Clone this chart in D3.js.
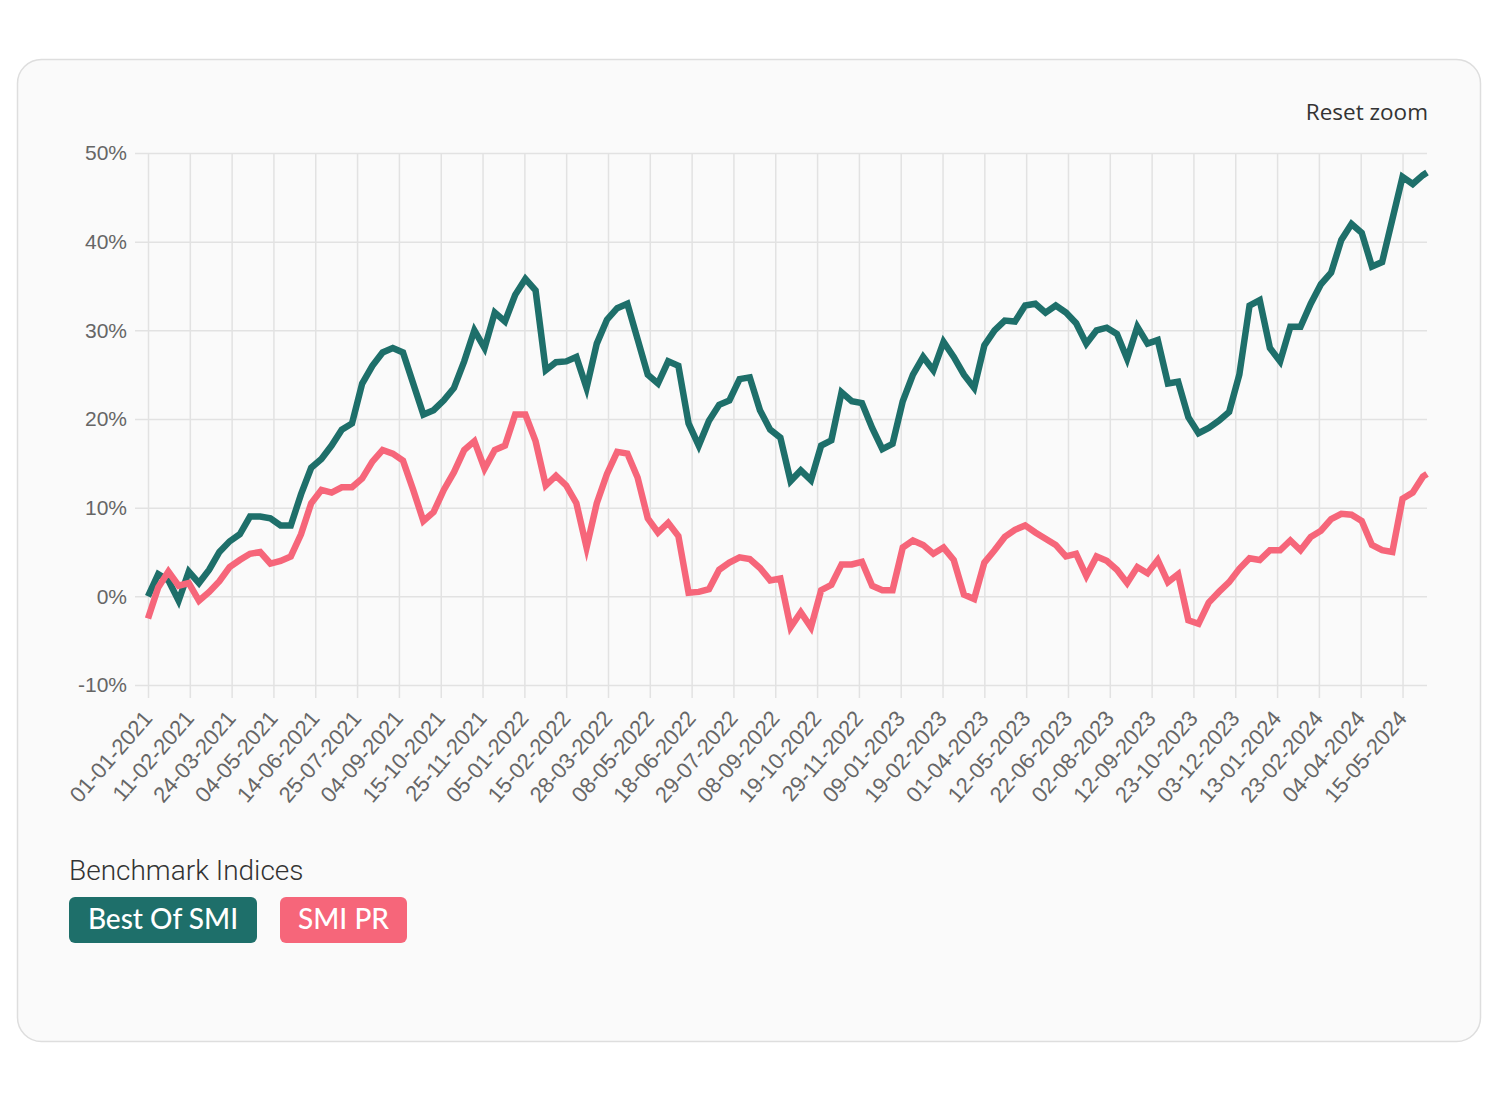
<!DOCTYPE html>
<html>
<head>
<meta charset="utf-8">
<script src="https://cdn.jsdelivr.net/npm/d3@7"></script>
<style>
  body { margin: 0; background: #ffffff; }
  svg { display: block; }
</style>
</head>
<body>
<div id="chart"></div>
<script>
// dates (every 10 days) and series values in %
var dates = [
  "2021-01-01","2021-01-11","2021-01-21","2021-01-31","2021-02-10","2021-02-20","2021-03-02","2021-03-12","2021-03-22","2021-04-01",
  "2021-04-11","2021-04-21","2021-05-01","2021-05-11","2021-05-21","2021-05-31","2021-06-10","2021-06-20","2021-06-30","2021-07-10",
  "2021-07-20","2021-07-30","2021-08-09","2021-08-19","2021-08-29","2021-09-08","2021-09-18","2021-09-28","2021-10-08","2021-10-18",
  "2021-10-28","2021-11-07","2021-11-17","2021-11-27","2021-12-07","2021-12-17","2021-12-27","2022-01-06","2022-01-16","2022-01-26",
  "2022-02-05","2022-02-15","2022-02-25","2022-03-07","2022-03-17","2022-03-27","2022-04-06","2022-04-16","2022-04-26","2022-05-06",
  "2022-05-16","2022-05-26","2022-06-05","2022-06-15","2022-06-25","2022-07-05","2022-07-15","2022-07-25","2022-08-04","2022-08-14",
  "2022-08-24","2022-09-03","2022-09-13","2022-09-23","2022-10-03","2022-10-13","2022-10-23","2022-11-02","2022-11-12","2022-11-22",
  "2022-12-02","2022-12-12","2022-12-22","2023-01-01","2023-01-11","2023-01-21","2023-01-31","2023-02-10","2023-02-20","2023-03-02",
  "2023-03-12","2023-03-22","2023-04-01","2023-04-11","2023-04-21","2023-05-01","2023-05-11","2023-05-21","2023-05-31","2023-06-10",
  "2023-06-20","2023-06-30","2023-07-10","2023-07-20","2023-07-30","2023-08-09","2023-08-19","2023-08-29","2023-09-08","2023-09-18",
  "2023-09-28","2023-10-08","2023-10-18","2023-10-28","2023-11-07","2023-11-17","2023-11-27","2023-12-07","2023-12-17","2023-12-27",
  "2024-01-06","2024-01-16","2024-01-26","2024-02-05","2024-02-15","2024-02-25","2024-03-06","2024-03-16","2024-03-26","2024-04-05",
  "2024-04-15","2024-04-25","2024-05-05","2024-05-15","2024-05-25","2024-06-04","2024-06-08"
];

var bestOfSmi = [
  0, 2.5, 1.8, -0.5, 2.8, 1.5, 3.0, 5.0, 6.2, 7.0,
  9.0, 9.0, 8.8, 8.0, 8.0, 11.5, 14.5, 15.5, 17.0, 18.8,
  19.5, 24.0, 26.0, 27.5, 28.0, 27.5, 24.0, 20.5, 21.0, 22.1,
  23.5, 26.5, 30.0, 28.0, 32.0, 31.0, 34.0, 35.8, 34.5, 25.5,
  26.4, 26.5, 27.0, 23.5, 28.5, 31.2, 32.5, 33.0, 29.0, 25.0,
  24.0, 26.5, 26.0, 19.5, 17.0, 19.8, 21.6, 22.1, 24.5, 24.7,
  21.0, 18.8, 17.9, 13.0, 14.2, 13.1, 17.0, 17.6, 23.0, 22.0,
  21.8, 19.0, 16.6, 17.2, 22.0, 25.0, 27.0, 25.5, 28.7, 27.0,
  25.0, 23.5, 28.3, 30.0, 31.1, 31.0, 32.8, 33.0, 32.0, 32.8,
  32.0, 30.8, 28.5, 30.0, 30.3, 29.6, 26.8, 30.4, 28.5, 28.9,
  24.0, 24.2, 20.2, 18.4, 19.0, 19.8, 20.8, 25.0, 32.8, 33.4,
  28.0, 26.5, 30.4, 30.4, 33.0, 35.2, 36.5, 40.2, 42.0, 41.0,
  37.2, 37.7, 42.5, 47.3, 46.5, 47.5, 47.8
];

var smiPr = [
  -2.5, 1.0, 2.8, 1.2, 1.5, -0.5, 0.5, 1.7, 3.3, 4.1,
  4.8, 5.0, 3.7, 4.0, 4.5, 7.0, 10.5, 12.0, 11.7, 12.3,
  12.3, 13.3, 15.2, 16.5, 16.1, 15.3, 12.0, 8.5, 9.5, 12.0,
  14.0, 16.5, 17.5, 14.4, 16.5, 17.0, 20.5, 20.5, 17.5, 12.5,
  13.6, 12.5, 10.5, 5.5, 10.5, 13.8, 16.3, 16.1, 13.4, 8.8,
  7.2, 8.3, 6.8, 0.4, 0.5, 0.8, 3.0, 3.8, 4.4, 4.2,
  3.2, 1.8, 2.0, -3.5, -1.8, -3.5, 0.7, 1.3, 3.6, 3.6,
  3.9, 1.2, 0.7, 0.7, 5.5, 6.3, 5.8, 4.8, 5.5, 4.1,
  0.2, -0.3, 3.8, 5.2, 6.7, 7.5, 8.0, 7.2, 6.5, 5.8,
  4.5, 4.8, 2.3, 4.5, 4.0, 3.0, 1.5, 3.3, 2.6, 4.1,
  1.6, 2.5, -2.7, -3.1, -0.7, 0.5, 1.6, 3.1, 4.3, 4.1,
  5.2, 5.2, 6.3, 5.2, 6.7, 7.4, 8.7, 9.3, 9.2, 8.5,
  5.8, 5.2, 5.0, 11.0, 11.7, 13.5, 13.8
];

var tickLabels = [
  "01-01-2021","11-02-2021","24-03-2021","04-05-2021","14-06-2021","25-07-2021","04-09-2021","15-10-2021",
  "25-11-2021","05-01-2022","15-02-2022","28-03-2022","08-05-2022","18-06-2022","29-07-2022","08-09-2022",
  "19-10-2022","29-11-2022","09-01-2023","19-02-2023","01-04-2023","12-05-2023","22-06-2023","02-08-2023",
  "12-09-2023","23-10-2023","03-12-2023","13-01-2024","23-02-2024","04-04-2024","15-05-2024"
];
var yTicks = [-10, 0, 10, 20, 30, 40, 50];

var seriesNames = ["Best Of SMI", "SMI PR"];
var seriesColors = ["#1e6f6a", "#f6667a"];

var W = 1500, H = 1100;
var margin = {top: 153, right: 73, bottom: 415, left: 148},
    width = W - margin.left - margin.right,
    height = H - margin.top - margin.bottom;

var parseDate = d3.timeParse("%Y-%m-%d");
var parseTick = d3.timeParse("%d-%m-%Y");

var svg = d3.select("#chart")
  .append("svg")
    .attr("width", W)
    .attr("height", H);

// card background
svg.append("rect")
  .attr("x", 17.5).attr("y", 59.5)
  .attr("width", 1463).attr("height", 982)
  .attr("rx", 24).attr("ry", 24)
  .attr("fill", "#fafafa")
  .attr("stroke", "#dedede")
  .attr("stroke-width", 1.5);

var g = svg.append("g")
  .attr("transform", "translate(" + margin.left + "," + margin.top + ")");

var x = d3.scaleTime()
  .domain([parseDate(dates[0]), parseDate(dates[dates.length - 1])])
  .range([0, width]);

var y = d3.scaleLinear()
  .domain([-10, 50])
  .range([height, 0]);

// vertical grid + x axis
var xAxis = g.append("g")
  .attr("transform", "translate(0," + height + ")")
  .call(d3.axisBottom(x)
    .tickValues(tickLabels.map(parseTick))
    .tickSize(-(height + 13))
    .tickFormat(function(d) { return d3.timeFormat("%d-%m-%Y")(d); }));
xAxis.select(".domain").remove();
xAxis.selectAll(".tick line")
  .attr("y1", 13)
  .attr("y2", -height)
  .attr("stroke", "#e2e2e2")
  .attr("stroke-width", 1.5);
xAxis.selectAll(".tick text")
  .attr("fill", "#666")
  .style("font-family", "'Liberation Sans', Arial, sans-serif")
  .style("font-size", "22px")
  .attr("text-anchor", "end")
  .attr("dy", null)
  .attr("transform", "translate(5,34) rotate(-49)")
  .attr("y", 0);

// horizontal grid + y axis
var yAxis = g.append("g")
  .call(d3.axisLeft(y)
    .tickValues(yTicks)
    .tickSize(13)
    .tickFormat(function(d) { return d + "%"; }));
yAxis.select(".domain").remove();
yAxis.selectAll(".tick line")
  .attr("x1", -13)
  .attr("x2", width)
  .attr("stroke", "#e2e2e2")
  .attr("stroke-width", 1.5);
yAxis.selectAll(".tick text")
  .attr("fill", "#666")
  .attr("x", -21)
  .style("font-family", "'Liberation Sans', Arial, sans-serif")
  .style("font-size", "21px");

// lines
var line = d3.line()
  .x(function(d) { return x(d.date); })
  .y(function(d) { return y(d.value); });

[bestOfSmi, smiPr].forEach(function(values, k) {
  var data = dates.map(function(d, i) { return {date: parseDate(d), value: values[i]}; });
  g.append("path")
    .datum(data)
    .attr("fill", "none")
    .attr("stroke", seriesColors[k])
    .attr("stroke-width", 6.5)
    .attr("stroke-linejoin", "miter")
    .attr("stroke-miterlimit", 8)
    .attr("d", line);
});

// reset zoom
svg.append("text")
  .attr("x", 1428)
  .attr("y", 120)
  .attr("text-anchor", "end")
  .attr("fill", "#333")
  .style("font-family", "'Open Sans', sans-serif")
  .style("font-size", "22.5px")
  .text("Reset zoom");

// legend
svg.append("text")
  .attr("x", 69)
  .attr("y", 880)
  .attr("fill", "#333")
  .style("font-family", "Roboto, sans-serif")
  .style("font-weight", 300)
  .style("font-size", "28px")
  .text("Benchmark Indices");

var pillX = [69, 280], pillW = [188, 127];
seriesNames.forEach(function(name, k) {
  svg.append("rect")
    .attr("x", pillX[k]).attr("y", 897)
    .attr("width", pillW[k]).attr("height", 46)
    .attr("rx", 6)
    .attr("fill", seriesColors[k]);
  svg.append("text")
    .attr("x", pillX[k] + pillW[k] / 2)
    .attr("y", 929)
    .attr("text-anchor", "middle")
    .attr("fill", "#fff")
    .style("font-family", "Lato, sans-serif")
    .style("font-weight", 500)
    .style("font-size", "28px")
    .text(name);
});
</script>
</body>
</html>
